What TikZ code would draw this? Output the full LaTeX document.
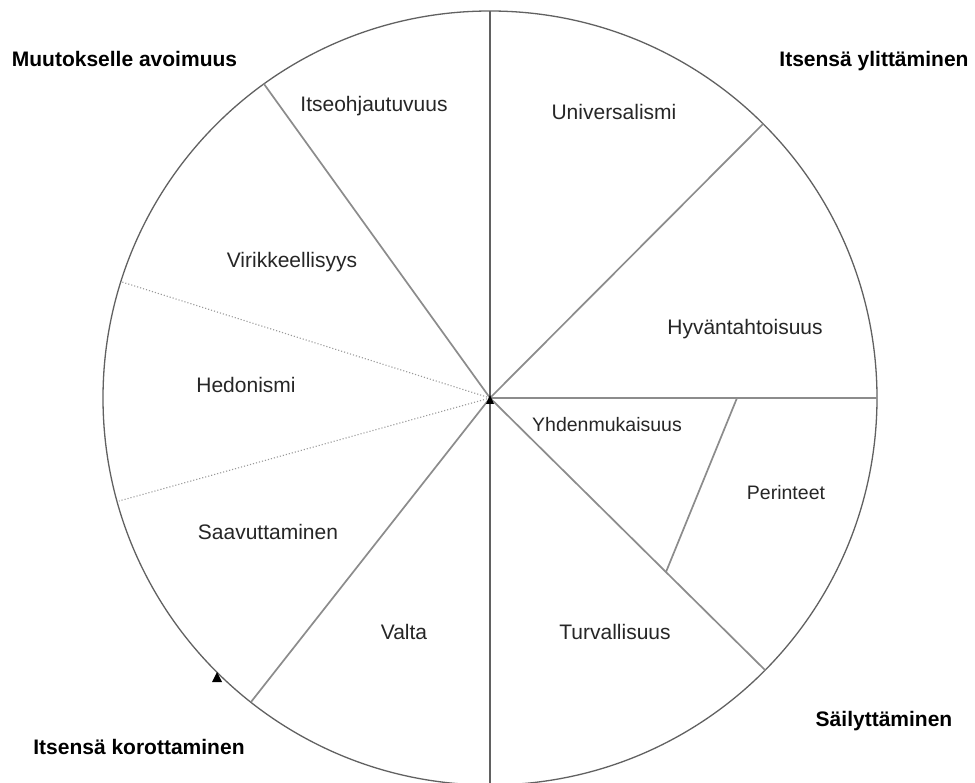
\documentclass[tikz,border=0pt]{standalone}
\usepackage{fontspec}
\setmainfont{Liberation Sans}
\begin{document}
\begin{tikzpicture}[x=1pt,y=-1pt,
  rim/.style={draw=black!62, line width=1.3pt},
  spoke/.style={draw=black!45, line width=1.7pt},
  axis/.style={draw=black!62, line width=1.5pt},
  dots/.style={draw=black!40, line width=1.1pt, dotted},
  lbl/.style={font=\fontsize{21}{25}\selectfont, text=black!85, inner sep=0pt, anchor=base},
  lblsmall/.style={font=\fontsize{19.5}{23}\selectfont, text=black!85, inner sep=0pt, anchor=base},
  ttl/.style={font=\bfseries\fontsize{21}{25}\selectfont, text=black, inner sep=0pt, anchor=base},
  tri/.style={fill=black}
]
\useasboundingbox (0,0) rectangle (975,783);
\fill[white] (0,0) rectangle (975,783);
\coordinate (c) at (490,398);
\coordinate (top) at (490,11);
\coordinate (bot) at (490,785);
\coordinate (ul) at (264,84);
\coordinate (ur) at (763,124);
\coordinate (r) at (877,398);
\coordinate (d1) at (122,282);
\coordinate (d2) at (119,501);
\coordinate (ll) at (251,702);
\coordinate (lr) at (765,670);
\coordinate (s1) at (737,398);
\coordinate (s2) at (666,572);

\draw[rim] (c) circle[radius=387];
\draw[spoke] (c) -- (ul);
\draw[spoke] (c) -- (ur);
\draw[spoke] (c) -- (r);
\draw[spoke] (c) -- (ll);
\draw[spoke] (c) -- (lr);
\draw[spoke] (s1) -- (s2);
\draw[dots] (c) -- (d1);
\draw[dots] (c) -- (d2);
\draw[axis] (top) -- (bot);

\fill[tri] (486,404) -- (494,404) -- (490,395) -- cycle;
\fill[tri] (212,682) -- (222,682) -- (217,672) -- cycle;

\node[ttl] (t1) at (124.5,67) {Muutokselle avoimuus};
\node[ttl] (t2) at (874,67) {Itsensä ylittäminen};
\node[ttl] (t3) at (884,726) {Säilyttäminen};
\node[ttl] (t4) at (139,754) {Itsensä korottaminen};

\node[lbl] (l1) at (374,112) {Itseohjautuvuus};
\node[lbl] (l2) at (614,120) {Universalismi};
\node[lbl] (l3) at (292,268) {Virikkeellisyys};
\node[lbl] (l4) at (745,335) {Hyväntahtoisuus};
\node[lbl] (l5) at (246,393) {Hedonismi};
\node[lblsmall] (l6) at (607,432) {Yhdenmukaisuus};
\node[lblsmall] (l7) at (786,500) {Perinteet};
\node[lbl] (l8) at (268,539) {Saavuttaminen};
\node[lbl] (l9) at (404,639) {Valta};
\node[lbl] (l10) at (615,639) {Turvallisuus};
\end{tikzpicture}
\end{document}
